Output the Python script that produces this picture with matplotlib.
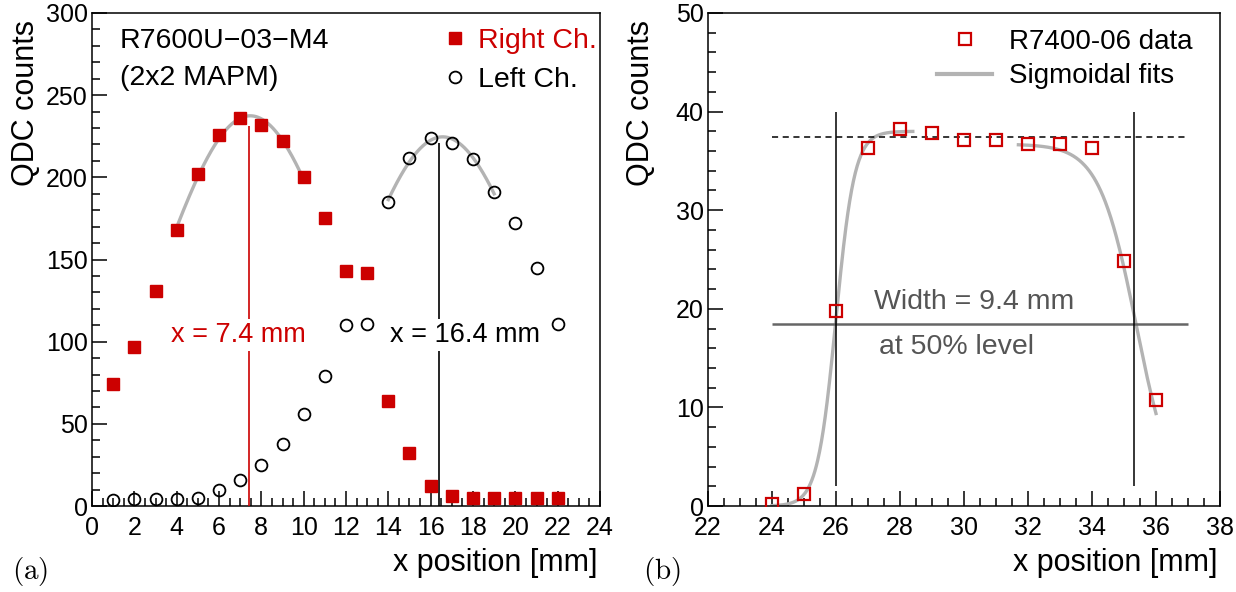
import numpy as np
import matplotlib.pyplot as plt
from matplotlib.ticker import MultipleLocator
from matplotlib.lines import Line2D

plt.rcParams['font.family'] = ['Liberation Sans', 'DejaVu Sans']
plt.rcParams['mathtext.fontset'] = 'cm'

RED = '#cc0000'
FIT_GRAY = '#b3b3b3'

# panel (a): R7600U-03-M4 (2x2 MAPM), scan across two channels
pos_a = np.arange(1, 23)
right_ch = [74, 97, 131, 168, 202, 226, 236, 232, 222, 200, 175, 143,
            142, 64, 32, 12, 6, 5, 5, 5, 5, 5]
left_ch = [3.5, 4, 4, 4.5, 5, 10, 16, 25, 38, 56, 79, 110,
           111, 185, 212, 224, 221, 211, 191, 172, 145, 111]
right_fit_range = (4, 10)
left_fit_range = (14, 19)
right_peak = 7.4
left_peak = 16.4
right_line_top = 231
left_line_top = 221

# panel (b): R7400-06 single anode scan
pos_b = np.arange(24, 37)
r7400 = [0.2, 1.2, 19.8, 36.3, 38.2, 37.8, 37.1, 37.1, 36.7, 36.7, 36.3, 24.8, 10.8]
plateau = 37.4
half_level = 18.5
edges = [26.0, 35.3]
width_mm = 9.4
# sigmoid fit parameters: amplitude, midpoint, slope, drawn from, drawn to
rise_fit = (38.0, 26.0, 0.29, 24.0, 28.4)
fall_fit = (36.7, 35.38, 0.58, 31.7, 36.0)


def gauss_fit(x, y, lo, hi):
    x = np.asarray(x, float)
    y = np.asarray(y, float)
    m = (x >= lo) & (x <= hi)
    c = np.polyfit(x[m], np.log(y[m]), 2)
    xs = np.linspace(lo, hi, 200)
    return xs, np.exp(np.polyval(c, xs))


def sigmoid(amp, mid, slope, lo, hi, falling=False):
    xs = np.linspace(lo, hi, 300)
    sign = 1 if falling else -1
    return xs, amp / (1 + np.exp(sign * (xs - mid) / slope))


def style(ax, xmin, xmax, ymax, ymajor, yminor):
    ax.set_xlim(xmin, xmax)
    ax.set_ylim(0, ymax)
    ax.xaxis.set_major_locator(MultipleLocator(2))
    ax.xaxis.set_minor_locator(MultipleLocator(0.5))
    ax.yaxis.set_major_locator(MultipleLocator(ymajor))
    ax.yaxis.set_minor_locator(MultipleLocator(yminor))
    ax.tick_params(which='both', direction='in', top=False, right=False,
                   width=1.1, labelsize=18)
    ax.tick_params(which='major', length=11)
    ax.tick_params(which='minor', length=5.5)
    ax.tick_params(axis='x', pad=7)
    ax.tick_params(axis='y', pad=3)
    for s in ax.spines.values():
        s.set_linewidth(1.1)
    ax.text(-0.13, 0.985, 'QDC counts', rotation=90, ha='center', va='top',
            fontsize=22, transform=ax.transAxes)
    ax.text(0.995, -0.115, 'x position [mm]', ha='right', va='center',
            fontsize=22, transform=ax.transAxes)


fig = plt.figure(figsize=(12.36, 5.92), dpi=100)
axa = fig.add_axes([92 / 1236, 1 - 506 / 592, 508 / 1236, 493 / 592])
axb = fig.add_axes([708 / 1236, 1 - 506 / 592, 512 / 1236, 493 / 592])

# ---- (a)
style(axa, 0, 24, 300, 50, 10)
xs, ys = gauss_fit(pos_a, right_ch, *right_fit_range)
axa.plot(xs, ys, color=FIT_GRAY, lw=2.4, zorder=2)
xs, ys = gauss_fit(pos_a, left_ch, *left_fit_range)
axa.plot(xs, ys, color=FIT_GRAY, lw=2.4, zorder=2)
axa.vlines(right_peak, 0, right_line_top, color=RED, lw=1.2, zorder=3)
axa.vlines(left_peak, 0, left_line_top, color='black', lw=1.2, zorder=3)
axa.plot(pos_a, right_ch, ls='none', marker='s', ms=8, color=RED, zorder=5)
axa.plot(pos_a, left_ch, ls='none', marker='o', ms=8.5, mfc='none',
         mec='black', mew=1.3, zorder=5)
box = dict(facecolor='white', edgecolor='none', pad=2)
axa.text(6.9, 104, 'x = %.1f mm' % right_peak, color=RED, fontsize=19.5,
         ha='center', va='center', bbox=box, zorder=4)
axa.text(17.64, 104, 'x = %.1f mm' % left_peak, color='black', fontsize=19.5,
         ha='center', va='center', bbox=box, zorder=4)
axa.text(0.055, 0.943, 'R7600U\u221203\u2212M4', fontsize=20.5, va='center',
         transform=axa.transAxes)
axa.text(0.055, 0.868, '(2x2 MAPM)', fontsize=20.5, va='center',
         transform=axa.transAxes)
hands = [Line2D([], [], ls='none', marker='s', ms=8, color=RED),
         Line2D([], [], ls='none', marker='o', ms=8.5, mfc='none',
                mec='black', mew=1.3)]
axa.legend(hands, ['Right Ch.', 'Left Ch.'], loc='upper right',
           bbox_to_anchor=(1.016, 0.992),
           frameon=False, fontsize=20.5, handlelength=1.0,
           handletextpad=0.3, labelspacing=0.43, borderaxespad=0.1,
           borderpad=0.3, labelcolor=[RED, 'black'])

# ---- (b)
style(axb, 22, 38, 50, 10, 2)
xs, ys = sigmoid(*rise_fit)
axb.plot(xs, ys, color=FIT_GRAY, lw=2.4, zorder=2)
xs, ys = sigmoid(*fall_fit, falling=True)
axb.plot(xs, ys, color=FIT_GRAY, lw=2.4, zorder=2)
axb.hlines(plateau, 24, 37, color='black', lw=1.1, linestyles=(0, (4, 3)))
axb.hlines(half_level, 24, 37, color='#666666', lw=1.8)
axb.vlines(edges, 2, 40, color='black', lw=1.1)
axb.plot(pos_b, r7400, ls='none', marker='s', ms=8.5, mfc='none',
         mec=RED, mew=1.6, zorder=5)
axb.text(27.2, 20.7, 'Width = %.1f mm' % width_mm,
         color='#555555', fontsize=20.5, va='center')
axb.text(27.35, 16.1, 'at 50% level', color='#555555', fontsize=20.5,
         va='center')
hands = [Line2D([], [], ls='none', marker='s', ms=8.5, mfc='none',
                mec=RED, mew=1.6),
         Line2D([], [], color=FIT_GRAY, lw=3)]
axb.legend(hands, ['R7400-06 data', 'Sigmoidal fits'], loc='upper right',
           bbox_to_anchor=(0.968, 0.99), frameon=False, fontsize=20,
           handlelength=2.0, handletextpad=0.6, labelspacing=0.3,
           borderaxespad=0.1, borderpad=0.3)

fig.text(12 / 1236, 1 - 572 / 592, r'$\mathrm{(a)}$', fontsize=21, va='center')
fig.text(643 / 1236, 1 - 572 / 592, r'$\mathrm{(b)}$', fontsize=21, va='center')

fig.savefig('out.png', dpi=100)
